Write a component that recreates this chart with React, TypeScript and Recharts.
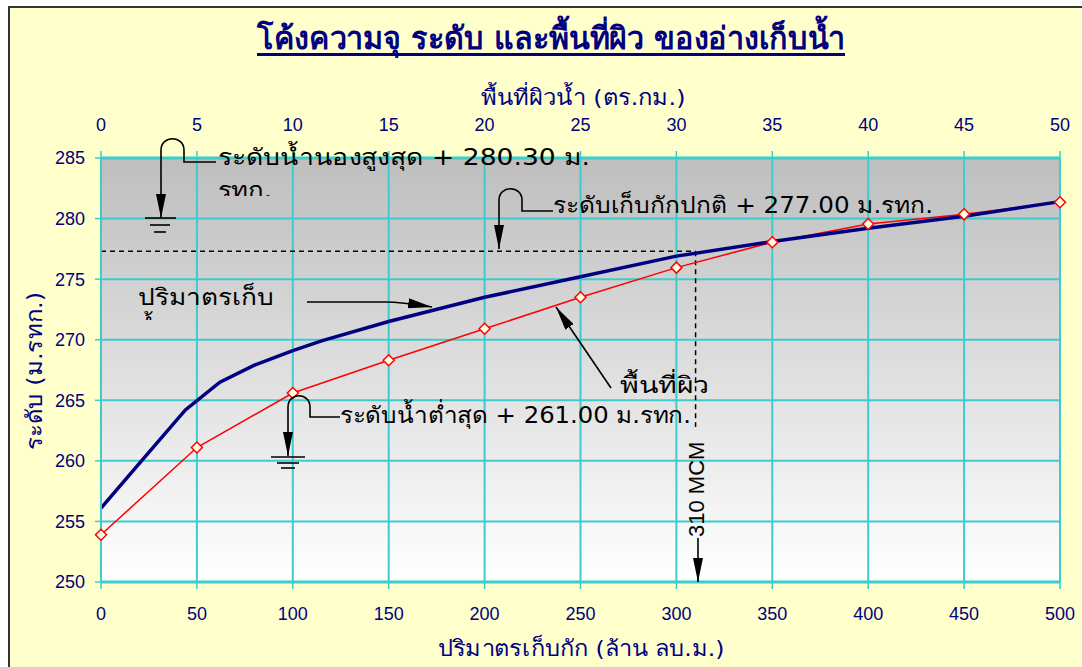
import React from 'react';
import { ComposedChart, Line, XAxis, YAxis, CartesianGrid, ReferenceLine } from 'recharts';

// storage curve: storage (MCM) vs level (m MSL)
const storageValues = [0, 20, 44, 62, 80, 100, 115, 150, 200, 250, 300, 350, 400, 450, 500];
const storageLevels = [256.1, 259.8, 264.2, 266.5, 267.9, 269.1, 269.9, 271.5, 273.5, 275.2, 276.9, 278.1, 279.2, 280.2, 281.4];

// surface area curve: area (sq.km) vs level
const areaValues = [0, 5, 10, 15, 20, 25, 30, 35, 40, 45, 50];
const areaLevels = [253.9, 261.1, 265.6, 268.3, 270.9, 273.5, 275.95, 278.05, 279.55, 280.35, 281.35];

const storageTicks = [0, 50, 100, 150, 200, 250, 300, 350, 400, 450, 500];
const areaTicks = [0, 5, 10, 15, 20, 25, 30, 35, 40, 45, 50];
const levelTicks = [250, 255, 260, 265, 270, 275, 280, 285];

const normalLevel = 277.3;
const normalStorage = 310;

const storageCurve = storageValues.map((s, i) => ({ s, h: storageLevels[i] }));
const areaCurve = areaValues.map((a, i) => ({ a, h: areaLevels[i] }));

const NAVY = '#000080';
const GRID = '#3CCCCC';
const W = 1082;
const H = 667;
const PLOT = { left: 101, top: 158, right: 1060, bottom: 582 };
const Y_AXIS_W = 60;
const TOP_AXIS_H = 40;
const BOTTOM_AXIS_H = 50;

const tickStyle = { fill: NAVY, fontSize: 18, fontFamily: '"Liberation Sans", Arial, sans-serif' };
const noteFont = '"DejaVu Sans", sans-serif';

const Diamond = (props: any) => {
  const { cx, cy, index } = props;
  if (cx == null || cy == null) return <g key={index} />;
  const r = 5.5;
  return (
    <polygon
      key={index}
      points={`${cx},${cy - r} ${cx + r},${cy} ${cx},${cy + r} ${cx - r},${cy}`}
      fill="#FFFFE8"
      stroke="#FF0000"
      strokeWidth={1.5}
    />
  );
};

const Annotations = () => (
  <svg width={W} height={H} style={{ position: 'absolute', left: 0, top: 0, pointerEvents: 'none' }}>
    <defs>
      <marker id="ah" viewBox="0 0 24 10" refX="24" refY="5" markerWidth="24" markerHeight="10" markerUnits="userSpaceOnUse" orient="auto">
        <path d="M0,0 L24,5 L0,10 z" fill="#000" />
      </marker>
      <clipPath id="clipMax"><rect x={210} y={130} width={400} height={66} /></clipPath>
      <clipPath id="clipVol"><rect x={130} y={270} width={170} height={50} /></clipPath>
    </defs>

    {/* title */}
    <text x={551} y={49} textAnchor="middle" fill={NAVY} fontSize={31} fontWeight="bold"
      fontFamily={noteFont} textLength={588} lengthAdjust="spacingAndGlyphs">
      โค้งความจุ ระดับ และพื้นที่ผิว ของอ่างเก็บน้ำ
    </text>
    <rect x={257} y={53} width={588} height={3} fill={NAVY} />

    {/* axis titles */}
    <text x={583} y={105} textAnchor="middle" fill={NAVY} fontSize={22} fontFamily={noteFont}
      textLength={205} lengthAdjust="spacingAndGlyphs">พื้นที่ผิวน้ำ (ตร.กม.)</text>
    <text x={581} y={656} textAnchor="middle" fill={NAVY} fontSize={22} fontFamily={noteFont}
      textLength={287} lengthAdjust="spacingAndGlyphs">ปริมาตรเก็บกัก (ล้าน ลบ.ม.)</text>
    <text x={0} y={0} transform="translate(42,371) rotate(-90)" textAnchor="middle" fill={NAVY} fontSize={22}
      fontFamily={noteFont} textLength={158} lengthAdjust="spacingAndGlyphs">ระดับ (ม.รทก.)</text>

    <g stroke="#000" strokeWidth={1.6} fill="none">
      {/* max flood level */}
      <path d="M 216 162 L 184 162 L 184 150 C 184 135 161 135 161 150 L 161 218" markerEnd="url(#ah)" />
      <line x1={145} y1={218} x2={176} y2={218} />
      <line x1={150} y1={225} x2={170} y2={225} />
      <line x1={154} y1={232} x2={166} y2={232} />
      {/* normal level */}
      <path d="M 553 211 L 522 211 L 522 200 C 522 185 499 185 499 200 L 499 249" markerEnd="url(#ah)" />
      {/* minimum level */}
      <path d="M 340 417 L 310 417 L 310 407 C 310 392 288 392 288 407 L 288 456" markerEnd="url(#ah)" />
      <line x1={271} y1={457} x2={305} y2={457} />
      <line x1={277} y1={463} x2={299} y2={463} />
      <line x1={281} y1={468} x2={295} y2={468} />
      {/* storage pointer */}
      <path d="M 307 302 L 386 302 Q 400 302 432 307" markerEnd="url(#ah)" />
      {/* area pointer */}
      <path d="M 611 388 L 556 307" markerEnd="url(#ah)" />
      {/* 310 MCM pointer */}
      <path d="M 698 538 L 698 582" markerEnd="url(#ah)" />
    </g>

    <g fill="#000" fontFamily={noteFont} fontSize={23}>
      <g clipPath="url(#clipMax)">
        <text x={218} y={165} textLength={372} lengthAdjust="spacingAndGlyphs">ระดับน้ำนองสูงสุด + 280.30 ม.</text>
        <text x={218} y={198} textLength={54} lengthAdjust="spacingAndGlyphs">รทก.</text>
      </g>
      <text x={553} y={213} textLength={380} lengthAdjust="spacingAndGlyphs">ระดับเก็บกักปกติ + 277.00 ม.รทก.</text>
      <g clipPath="url(#clipVol)">
        <text x={138} y={305} textLength={136} lengthAdjust="spacingAndGlyphs">ปริมาตรเก็บ</text>
        <text x={138} y={335}>น้ำ</text>
      </g>
      <text x={620} y={393} textLength={89} lengthAdjust="spacingAndGlyphs">พื้นที่ผิว</text>
      <text x={340} y={423} textLength={351} lengthAdjust="spacingAndGlyphs">ระดับน้ำต่ำสุด + 261.00 ม.รทก.</text>
    </g>
    <text x={0} y={0} transform="translate(704,537) rotate(-90)" fill="#000" fontSize={22}
      fontFamily='"Liberation Sans", Arial, sans-serif'>310 MCM</text>
  </svg>
);

export default function App() {
  return (
    <div style={{ position: 'absolute', left: 0, top: 0, width: W, height: H, overflow: 'hidden', background: '#fff' }}>
      <svg width={0} height={0} style={{ position: 'absolute' }}>
        <defs>
          <linearGradient id="plotBg" x1="0" y1="0" x2="0" y2="1">
            <stop offset="0%" stopColor="#BEBEBE" />
            <stop offset="100%" stopColor="#FFFFFF" />
          </linearGradient>
        </defs>
      </svg>
      <div style={{ position: 'absolute', left: 8, top: 6, width: 1200, height: 800, background: '#FFFFCC', borderLeft: '2px solid #333', borderTop: '2px solid #333' }} />
      <div style={{ position: 'absolute', left: 0, top: 0 }}>
        <ComposedChart
          width={W}
          height={H}
          margin={{
            top: PLOT.top - TOP_AXIS_H,
            right: W - PLOT.right,
            bottom: H - PLOT.bottom - BOTTOM_AXIS_H,
            left: PLOT.left - Y_AXIS_W,
          }}
        >
          <CartesianGrid xAxisId="s" yAxisId="y" stroke={GRID} strokeWidth={2} fill="url(#plotBg)" fillOpacity={1} />
          <XAxis xAxisId="s" type="number" dataKey="s" domain={[0, 500]} ticks={storageTicks} orientation="bottom"
            height={BOTTOM_AXIS_H} tick={tickStyle} tickSize={7} tickMargin={18}
            axisLine={{ stroke: GRID, strokeWidth: 3 }} tickLine={{ stroke: GRID, strokeWidth: 1.5 }} />
          <XAxis xAxisId="a" type="number" dataKey="a" domain={[0, 50]} ticks={areaTicks} orientation="top"
            height={TOP_AXIS_H} tick={tickStyle} tickSize={7} tickMargin={20}
            axisLine={{ stroke: GRID, strokeWidth: 3 }} tickLine={{ stroke: GRID, strokeWidth: 1.5 }} />
          <YAxis yAxisId="y" type="number" domain={[250, 285]} ticks={levelTicks} width={Y_AXIS_W}
            tick={tickStyle} tickSize={6} tickMargin={10}
            axisLine={{ stroke: GRID, strokeWidth: 2 }} tickLine={{ stroke: GRID, strokeWidth: 1.5 }} />
          <ReferenceLine xAxisId="s" yAxisId="y" segment={[{ x: 0, y: normalLevel }, { x: normalStorage, y: normalLevel }]}
            stroke="#000" strokeWidth={1.5} strokeDasharray="5 4" />
          <ReferenceLine xAxisId="s" yAxisId="y" segment={[{ x: normalStorage, y: normalLevel }, { x: normalStorage, y: 262.8 }]}
            stroke="#000" strokeWidth={1.5} strokeDasharray="5 4" />
          <Line xAxisId="a" yAxisId="y" data={areaCurve} dataKey="h" type="linear" stroke="#FF0000" strokeWidth={1.5}
            dot={Diamond} activeDot={false} isAnimationActive={false} />
          <Line xAxisId="s" yAxisId="y" data={storageCurve} dataKey="h" type="linear" stroke={NAVY} strokeWidth={3.5}
            dot={false} activeDot={false} isAnimationActive={false} />
        </ComposedChart>
      </div>
      <Annotations />
    </div>
  );
}
